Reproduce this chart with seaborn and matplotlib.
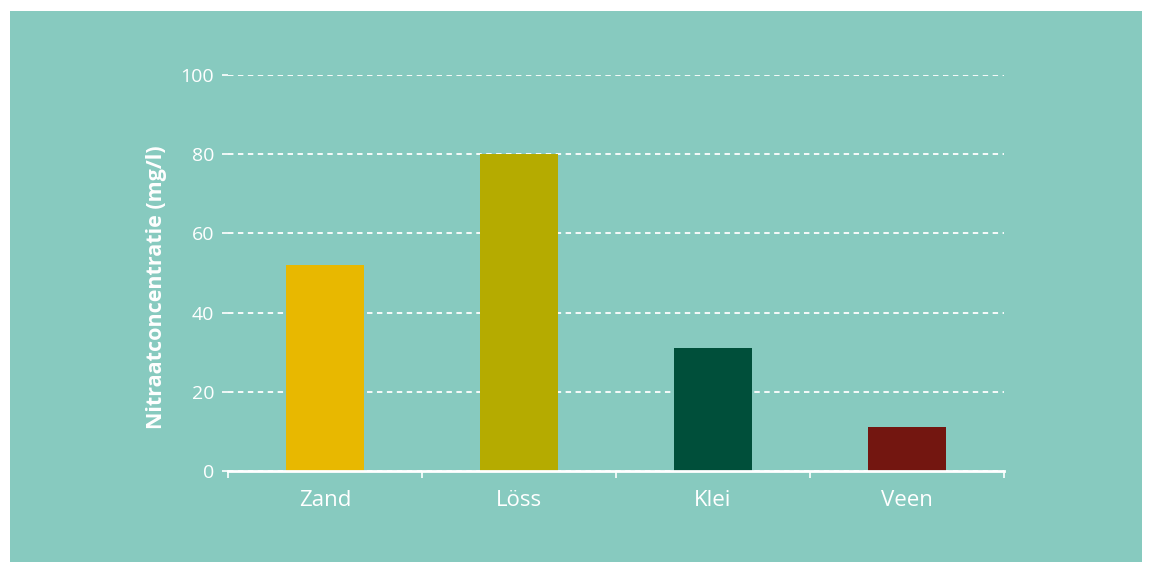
import matplotlib
matplotlib.use("Agg")
import matplotlib.pyplot as plt
import seaborn as sns
from matplotlib.patches import Rectangle

categories = ["Zand", "Löss", "Klei", "Veen"]
values = [52, 80, 31, 11]
colors = ["#E8B800", "#B5AB00", "#004F3A", "#731610"]
yticks = [0, 20, 40, 60, 80, 100]

sns.set_theme(style="white")
plt.rcParams['font.family'] = ['Open Sans', 'DejaVu Sans']

BG = "#87CABF"
fig = plt.figure(figsize=(11.52, 5.73), dpi=100, facecolor="white")
fig.patches.append(Rectangle((10/1152, 11/573), 1132/1152, 551/573,
                             transform=fig.transFigure, facecolor=BG,
                             edgecolor="none", zorder=-10))
ax = fig.add_axes([228/1152, (573-471)/573, 776/1152, 396/573])
ax.set_facecolor(BG)
ax.patch.set_alpha(0)

sns.barplot(x=categories, y=values, hue=categories, palette=colors,
            legend=False, width=0.4, ax=ax, saturation=1, zorder=3,
            linewidth=0, edgecolor="none")

ax.set_xlim(-0.5, 3.5)
ax.set_ylim(0, 100)
ax.set_yticks(yticks)
ax.set_yticklabels([str(v) for v in yticks], color="white", fontsize=14)
ax.tick_params(axis="y", length=4, color="white", width=1.2, pad=6, left=True)
ax.yaxis.grid(True, color="white", linestyle=(0, (3, 2.5)), linewidth=1.3, zorder=1)
ax.set_axisbelow(True)

ax.set_xticks(range(len(categories)))
ax.set_xticklabels(categories, color="white", fontsize=16)
ax.tick_params(axis="x", which="major", length=0, pad=14)
ax.set_xticks([-0.5, 0.5, 1.5, 2.5, 3.5], minor=True)
ax.tick_params(axis="x", which="minor", length=5, width=1.2, color="white", bottom=True, direction="out")

for s in ["top", "right", "left"]:
    ax.spines[s].set_visible(False)
ax.spines["bottom"].set_color("white")
ax.spines["bottom"].set_linewidth(2)
ax.spines["bottom"].set_zorder(4)

ax.set_xlabel("")
ax.set_ylabel("Nitraatconcentratie (mg/l)", color="white", fontsize=15.5,
              fontweight="bold")
ax.yaxis.set_label_coords(-0.079, 0.465)

fig.savefig("out.png", dpi=100, facecolor="white")
